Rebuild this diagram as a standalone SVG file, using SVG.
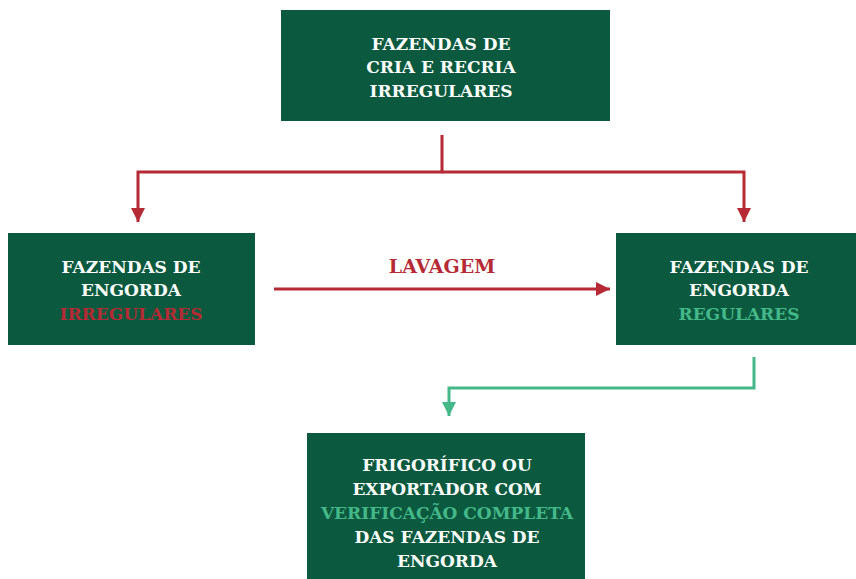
<svg xmlns="http://www.w3.org/2000/svg" width="856" height="579" viewBox="0 0 856 579">
<style>
.box{fill:#0b5a3f}
text{font-family:"DejaVu Serif","Liberation Serif",serif;font-weight:bold;font-size:17px;text-anchor:middle;fill:#ffffff}
.red{fill:#b52a35}
.grn{fill:#45b88a}
.lr{fill:none;stroke:#b52a35;stroke-width:3}
.lg{fill:none;stroke:#45b88a;stroke-width:3}
</style>
<defs>
<marker id="ar" viewBox="0 0 14 14" refX="14" refY="7" markerWidth="14" markerHeight="14" markerUnits="userSpaceOnUse" orient="auto"><path d="M0,0 L14,7 L0,14 Z" fill="#b52a35"/></marker>
<marker id="ag" viewBox="0 0 14 14" refX="14" refY="7" markerWidth="14" markerHeight="14" markerUnits="userSpaceOnUse" orient="auto"><path d="M0,0 L14,7 L0,14 Z" fill="#45b88a"/></marker>
</defs>
<g id="connectors">
<polyline class="lr" points="442,135 442,172 138,172 138,222" marker-end="url(#ar)"/>
<polyline class="lr" points="442,172 744,172 744,222" marker-end="url(#ar)"/>
<line class="lr" x1="274" y1="289" x2="610" y2="289" marker-end="url(#ar)"/>
<polyline class="lg" points="754,357 754,388 449,388 449,416" marker-end="url(#ag)"/>
<text class="red" x="442" y="273" style="font-size:19px">LAVAGEM</text>
</g>
<g id="top">
<rect class="box" x="281" y="10" width="329" height="111"/>
<text x="441" y="50">FAZENDAS DE</text>
<text x="441" y="73">CRIA E RECRIA</text>
<text x="441" y="97">IRREGULARES</text>
</g>
<g id="left">
<rect class="box" x="8" y="233" width="247" height="112"/>
<text x="131" y="273">FAZENDAS DE</text>
<text x="131" y="296">ENGORDA</text>
<text class="red" x="131" y="320">IRREGULARES</text>
</g>
<g id="right">
<rect class="box" x="616" y="233" width="240" height="112"/>
<text x="739" y="273">FAZENDAS DE</text>
<text x="739" y="296">ENGORDA</text>
<text class="grn" x="739" y="320">REGULARES</text>
</g>
<g id="bottom">
<rect class="box" x="307" y="433" width="278" height="146"/>
<text x="447" y="471">FRIGORÍFICO OU</text>
<text x="447" y="495">EXPORTADOR COM</text>
<text class="grn" x="447" y="519">VERIFICAÇÃO COMPLETA</text>
<text x="447" y="543">DAS FAZENDAS DE</text>
<text x="447" y="567">ENGORDA</text>
</g>
</svg>
